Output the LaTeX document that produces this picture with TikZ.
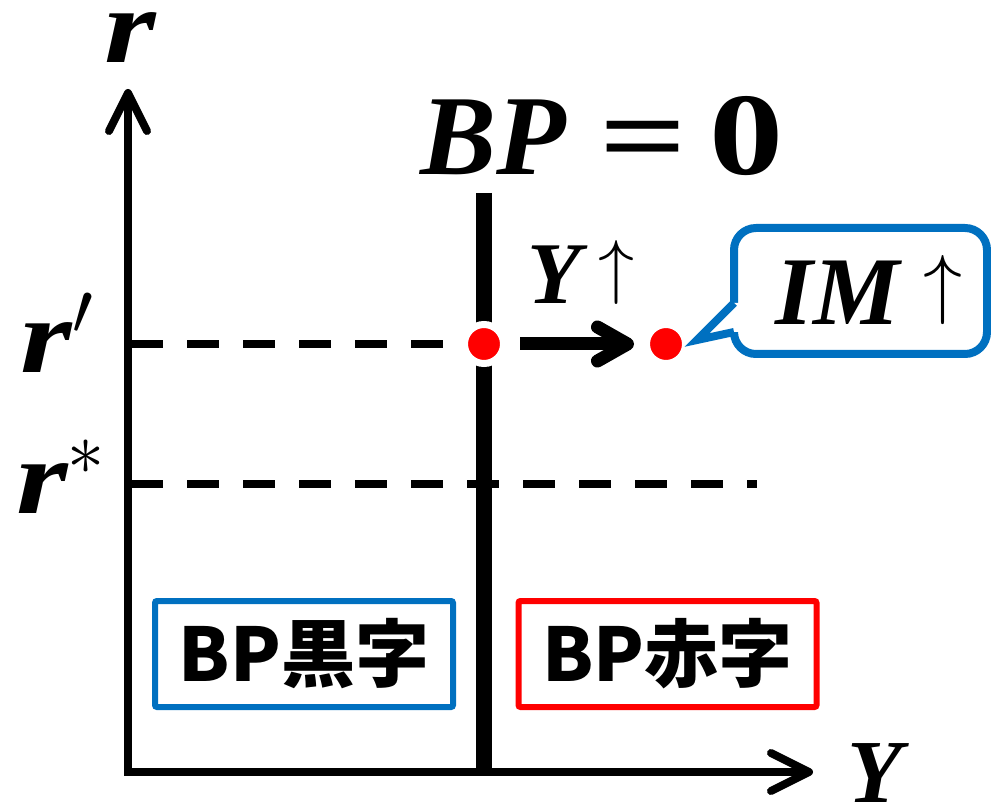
\RequirePackage{fix-cm}
\documentclass[tikz,border=0pt]{standalone}
\usepackage{amsmath}
\usepackage{amssymb}
\usepackage{xcolor}
\usepackage{graphicx}
\usepackage{fontspec}
\usepackage{tikz}
\usetikzlibrary{arrows.meta}

\newfontfamily\cjk{Noto Sans CJK JP}
\newfontfamily\varfont{Liberation Serif}
\definecolor{bpblue}{HTML}{0070C0}
\definecolor{bpred}{HTML}{FF0000}

% bold italic variable
\newcommand{\bivar}[1]{{\varfont\bfseries\itshape #1}}
% thin arrow standing on the baseline
\newcommand{\uparr}[1]{{\fontsize{#1}{#1}\selectfont\raisebox{0.194em}{$\uparrow$}}}

\begin{document}
\begin{tikzpicture}[x=1pt, y=-1pt]
        \def\labelsize{\fontsize{106}{116}\selectfont}
        \tikzstyle{axisline}=[line width=8pt, {Straight Barb[length=38pt, width=38pt, round]}-{Straight Barb[length=38pt, width=38pt, round]}]
        \tikzstyle{rateline}=[line width=7.5pt, dash pattern=on 32pt off 24pt]
        \tikzstyle{reddot}=[circle, fill=bpred, draw=white, line width=7pt, minimum size=39pt, inner sep=0pt]
        \tikzstyle{shiftarrow}=[line width=13pt, -{Straight Barb[length=30pt, width=34pt, round]}, shorten <=13pt, shorten >=9pt]
        \tikzstyle{mathlabel}=[inner sep=0pt, anchor=base]
        \tikzstyle{regionbox}=[line width=6pt, rounded corners=2pt, minimum width=298pt, minimum height=106pt, inner sep=0pt, font=\cjk\bfseries\fontsize{74}{80}\selectfont]

        \useasboundingbox (0, 0) rectangle (991, 802);

        % Axes
        \coordinate (origin) at (128, 772);
        \coordinate (r_axis) at (128, 89);
        \coordinate (y_axis) at (813, 772);
        \draw[axisline] (r_axis) -- (origin) -- (y_axis);

        \draw node at (130, 63) [mathlabel, font=\labelsize] (r_label) {\bivar{\scalebox{1.25}[1]{r}}};
        \draw node at (875, 802) [mathlabel, font=\fontsize{90}{100}\selectfont] (y_label) {\bivar{Y}};

        % BP = 0 line
        \draw node at (602, 175) [mathlabel, font=\fontsize{114}{124}\selectfont] (bp_label) {\bivar{BP}\hspace{34pt}{\varfont\bfseries\scalebox{1.35}[1]{=}\hspace{22pt}\scalebox{1.3}[1.03]{0}}};
        \coordinate (bp_top) at (484, 193);
        \coordinate (bp_bottom) at (484, 772);
        \draw[line width=16pt] (bp_top) -- (bp_bottom);

        % Interest rates
        \draw node at (57, 373) [mathlabel, font=\labelsize] (rp_label) {\bivar{\scalebox{1.25}[1]{r}}$'$};
        \draw node at (61, 513) [mathlabel, font=\labelsize] (rs_label) {\bivar{\scalebox{1.25}[1]{r}}$^{*}$};

        \coordinate (rp_0) at (131, 344);
        \coordinate (rs_0) at (131, 484);
        \coordinate (rs_1) at (757, 484);
        \draw[rateline] (rs_0) -- (rs_1);

        \draw node at (484, 344) [reddot] (dot_0) {};
        \draw node at (666, 344) [reddot] (dot_1) {};
        \draw[rateline] (rp_0) -- (dot_0);

        % Y up -> move right
        \draw[shiftarrow] (dot_0) -- (dot_1);
        \draw node at (581, 304) [mathlabel, font=\fontsize{88}{96}\selectfont] (y_up) {\bivar{Y}\hspace{18pt}\uparr{72}};

        % Callout
        \draw[bpblue, line width=8pt, rounded corners=22pt, fill=white] (734, 228) rectangle (987, 354);
        \fill[white] (697, 340) -- (734, 303) -- (741, 303) -- (741, 332) -- (734, 332) -- cycle;
        \draw[bpblue, line width=8pt] (734, 303) -- (697, 340) -- (734, 332);
        \draw node at (869, 325) [mathlabel, font=\fontsize{97}{104}\selectfont] (im_up) {\bivar{IM}\hspace{24pt}\uparr{78}};

        % Balance boxes
        \draw node at (304, 654) [regionbox, draw=bpblue] (surplus) {BP黒字};
        \draw node at (667.5, 654) [regionbox, draw=bpred] (deficit) {BP赤字};

\end{tikzpicture}
\end{document}
